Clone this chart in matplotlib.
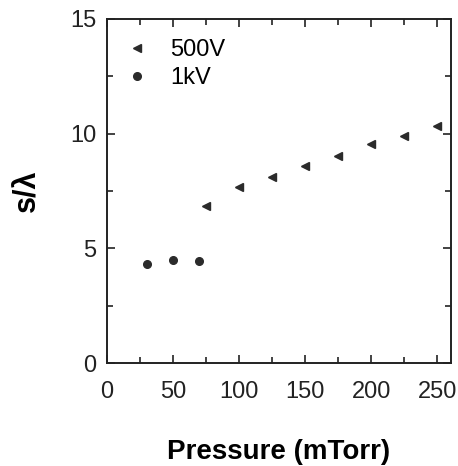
import numpy as np
import matplotlib.pyplot as plt
from matplotlib.ticker import MultipleLocator

plt.rcParams['font.family'] = ['Liberation Sans', 'DejaVu Sans']

p_500 = [75, 100, 125, 150, 175, 200, 225, 250]
s_500 = [6.86, 7.66, 8.11, 8.6, 9.03, 9.55, 9.91, 10.33]
p_1k = [30, 50, 70]
s_1k = [4.32, 4.48, 4.45]

fig = plt.figure(figsize=(4.58, 4.66), dpi=100)
ax = fig.add_axes([107/458, 1-363/466, (451-107)/458, (363-19)/466])

ax.plot(p_500, s_500, ls='none', marker='<', ms=6, color='#2b2b2b', label='500V')
ax.plot(p_1k, s_1k, ls='none', marker='o', ms=5.5, color='#2b2b2b', label='1kV')

ax.set_xlim(0, 260.5)
ax.set_ylim(0, 15)
ax.xaxis.set_major_locator(MultipleLocator(50))
ax.xaxis.set_minor_locator(MultipleLocator(25))
ax.yaxis.set_major_locator(MultipleLocator(5))
ax.yaxis.set_minor_locator(MultipleLocator(2.5))
ax.tick_params(which='both', direction='in', top=True, right=True, width=1.2,
               labelsize=17, colors='#222222')
ax.tick_params(axis='x', which='both', pad=13)
ax.tick_params(axis='y', which='both', pad=7.5)
ax.tick_params(which='major', length=6)
ax.tick_params(which='minor', length=4)
for s in ax.spines.values():
    s.set_linewidth(1.4)
    s.set_color('#222222')

ax.set_xlabel('Pressure (mTorr)', fontsize=20, fontweight='bold', labelpad=26)
ax.set_ylabel('s/λ', fontsize=22, fontweight='bold', labelpad=20)

leg = ax.legend(loc='upper left', frameon=False, fontsize=17, handlelength=1.0,
                handletextpad=0.9, borderaxespad=0, labelspacing=0.25,
                bbox_to_anchor=(0.026, 0.969))

fig.savefig('out.png', dpi=100)
